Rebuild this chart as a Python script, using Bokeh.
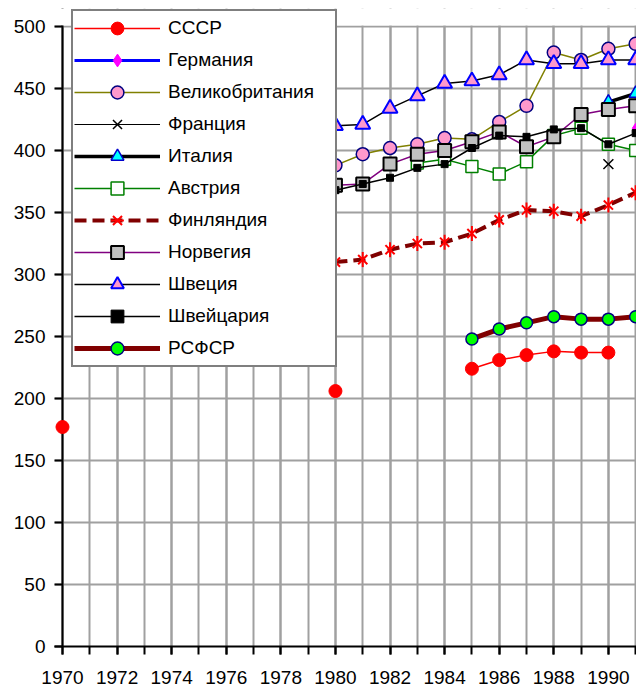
import math
import numpy as np
from bokeh.plotting import figure
from bokeh.models import Range1d, SingleIntervalTicker, Legend, LegendItem, Span, BoxAnnotation
from bokeh.embed import file_html
from bokeh.resources import INLINE

N = None
years = list(range(1970, 1992))

ussr    = [177, N, N, N, N, N, N, N, N, N, 206, N, N, N, N, 224, 231, 235, 238, 237, 237, N]
germany = [N] * 21 + [418]
uk      = [N] * 10 + [388, 397, 402, 405, 410, 409, 423, 436, 479, 473, 482, 486]
france  = [N] * 20 + [389, N]
italy   = [N] * 20 + [439, 446]
austria = [N] * 13 + [390, 393, 387, 381, 391, 412, 418, 405, 400]
finland = [N] * 10 + [310, 312, 320, 325, 326, 333, 344, 352, 351, 347, 356, 366]
norway  = [N] * 10 + [372, 373, 389, 397, 400, 407, 415, 403, 411, 429, 433, 436]
sweden  = [N] * 10 + [420, 421, 434, 444, 454, 456, 461, 473, 470, 470, 473, 473]
swiss   = [N] * 10 + [368, 373, 378, 386, 389, 402, 412, 411, 417, 418, 405, 414]
rsfsr   = [N] * 15 + [248, 256, 261, 266, 264, 264, 266]

y_max = 500

FONT = "Liberation Sans"
GRID = "#a0a0a0"

p = figure(width=636, height=689,
           x_range=Range1d(1969.707, 1991.03), y_range=Range1d(0, 514.5),
           output_backend="svg", toolbar_location=None,
           min_border_left=54, min_border_right=0,
           min_border_top=8, min_border_bottom=43)
p.outline_line_color = None
p.background_fill_color = "white"
p.border_fill_color = "white"

xt = SingleIntervalTicker(interval=2, num_minor_ticks=2)
yt = SingleIntervalTicker(interval=50, num_minor_ticks=0)
p.xaxis.ticker = xt
p.yaxis.ticker = yt
p.xgrid.ticker = xt
p.ygrid.ticker = yt

for ax in (p.xaxis, p.yaxis):
    ax.axis_line_color = "black"
    ax.axis_line_width = 2
    ax.major_tick_line_color = "black"
    ax.major_tick_line_width = 2
    ax.minor_tick_line_color = "black"
    ax.minor_tick_line_width = 2
    ax.major_label_text_font = FONT
    ax.major_label_text_font_size = "19px"
    ax.major_label_text_color = "black"

p.xaxis.major_tick_out = 8
p.xaxis.major_tick_in = 0
p.xaxis.minor_tick_out = 8
p.xaxis.minor_tick_in = 0
p.xaxis.major_label_standoff = 16

p.yaxis.axis_line_color = None
p.yaxis.major_tick_out = 0
p.yaxis.major_tick_in = 8
p.yaxis.minor_tick_line_color = None
p.yaxis.major_label_standoff = 9

for g in (p.xgrid, p.ygrid):
    g.level = "image"
    g.grid_line_color = GRID
    g.grid_line_width = 2
p.xgrid.minor_grid_line_color = GRID
p.xgrid.minor_grid_line_width = 2

yline = Span(location=years[0], dimension="height", line_color="black",
             line_width=2, level="underlay")
p.add_layout(yline)
# blank the strip above the 500 line (the frame is taller only to hold the legend)
cover = BoxAnnotation(bottom=y_max + 0.8, fill_color="white", fill_alpha=1,
                      line_color=None, level="underlay")
p.add_layout(cover)

x = np.array(years, dtype=float)

def arr(v):
    return np.array([np.nan if a is None else a for a in v], dtype=float)

items = []

def add(label, vals, line_kw, markers):
    y = arr(vals)
    rs = [p.line(x, y, **line_kw)]
    for mk in markers:
        rs.append(p.scatter(x, y, **mk))
    items.append(LegendItem(label=label, renderers=rs))

add("СССР", ussr, dict(line_color="#ff0000", line_width=1.5),
    [dict(marker="circle", size=13, fill_color="#ff0000", line_color="#ff0000")])
add("Германия", germany, dict(line_color="#0000ff", line_width=3),
    [dict(marker="diamond", size=10, fill_color="#ff00ff", line_color="#ff00ff")])
add("Великобритания", uk, dict(line_color="#808000", line_width=1.5),
    [dict(marker="circle", size=13, fill_color="#ff99cc", line_color="#000080", line_width=1.5)])
add("Франция", france, dict(line_color="black", line_width=1),
    [dict(marker="x", size=14, line_color="black", line_width=1.5)])
add("Италия", italy, dict(line_color="black", line_width=3.5),
    [dict(marker="triangle", size=13, fill_color="#00ffff", line_color="#0000cc", line_width=1.5)])
add("Австрия", austria, dict(line_color="#008000", line_width=1.5),
    [dict(marker="square", size=12, fill_color="white", line_color="#008000", line_width=1.5)])
add("Финляндия", finland, dict(line_color="#800000", line_width=4, line_dash="12 6"),
    [dict(marker="x", size=13, line_color="#ff0000", line_width=2),
     dict(marker="dash", size=15, angle=math.pi / 2, line_color="#ff0000", line_width=2)])
add("Норвегия", norway, dict(line_color="#800080", line_width=1.5),
    [dict(marker="square", size=13, fill_color="#c0c0c0", line_color="black", line_width=2)])
add("Швеция", sweden, dict(line_color="black", line_width=1.5),
    [dict(marker="triangle", size=15, fill_color="#ff99cc", line_color="#0000ff", line_width=2)])
add("Швейцария", swiss, dict(line_color="black", line_width=1.5),
    [dict(marker="square", size=7, fill_color="black", line_color="black")])
add("РСФСР", rsfsr, dict(line_color="#800000", line_width=5),
    [dict(marker="circle", size=12, fill_color="#00ff00", line_color="#000080", line_width=1.5)])

legend = Legend(items=items, location=(17, 279),
                glyph_width=86, glyph_height=32, label_height=32,
                spacing=0, padding=1, margin=0, label_standoff=8, label_width=166,
                border_line_color="black", border_line_width=2,
                background_fill_color="white", background_fill_alpha=1,
                label_text_font=FONT, label_text_font_size="19px",
                label_text_color="black")
p.add_layout(legend)

open("out.html", "w").write(file_html(p, INLINE))
